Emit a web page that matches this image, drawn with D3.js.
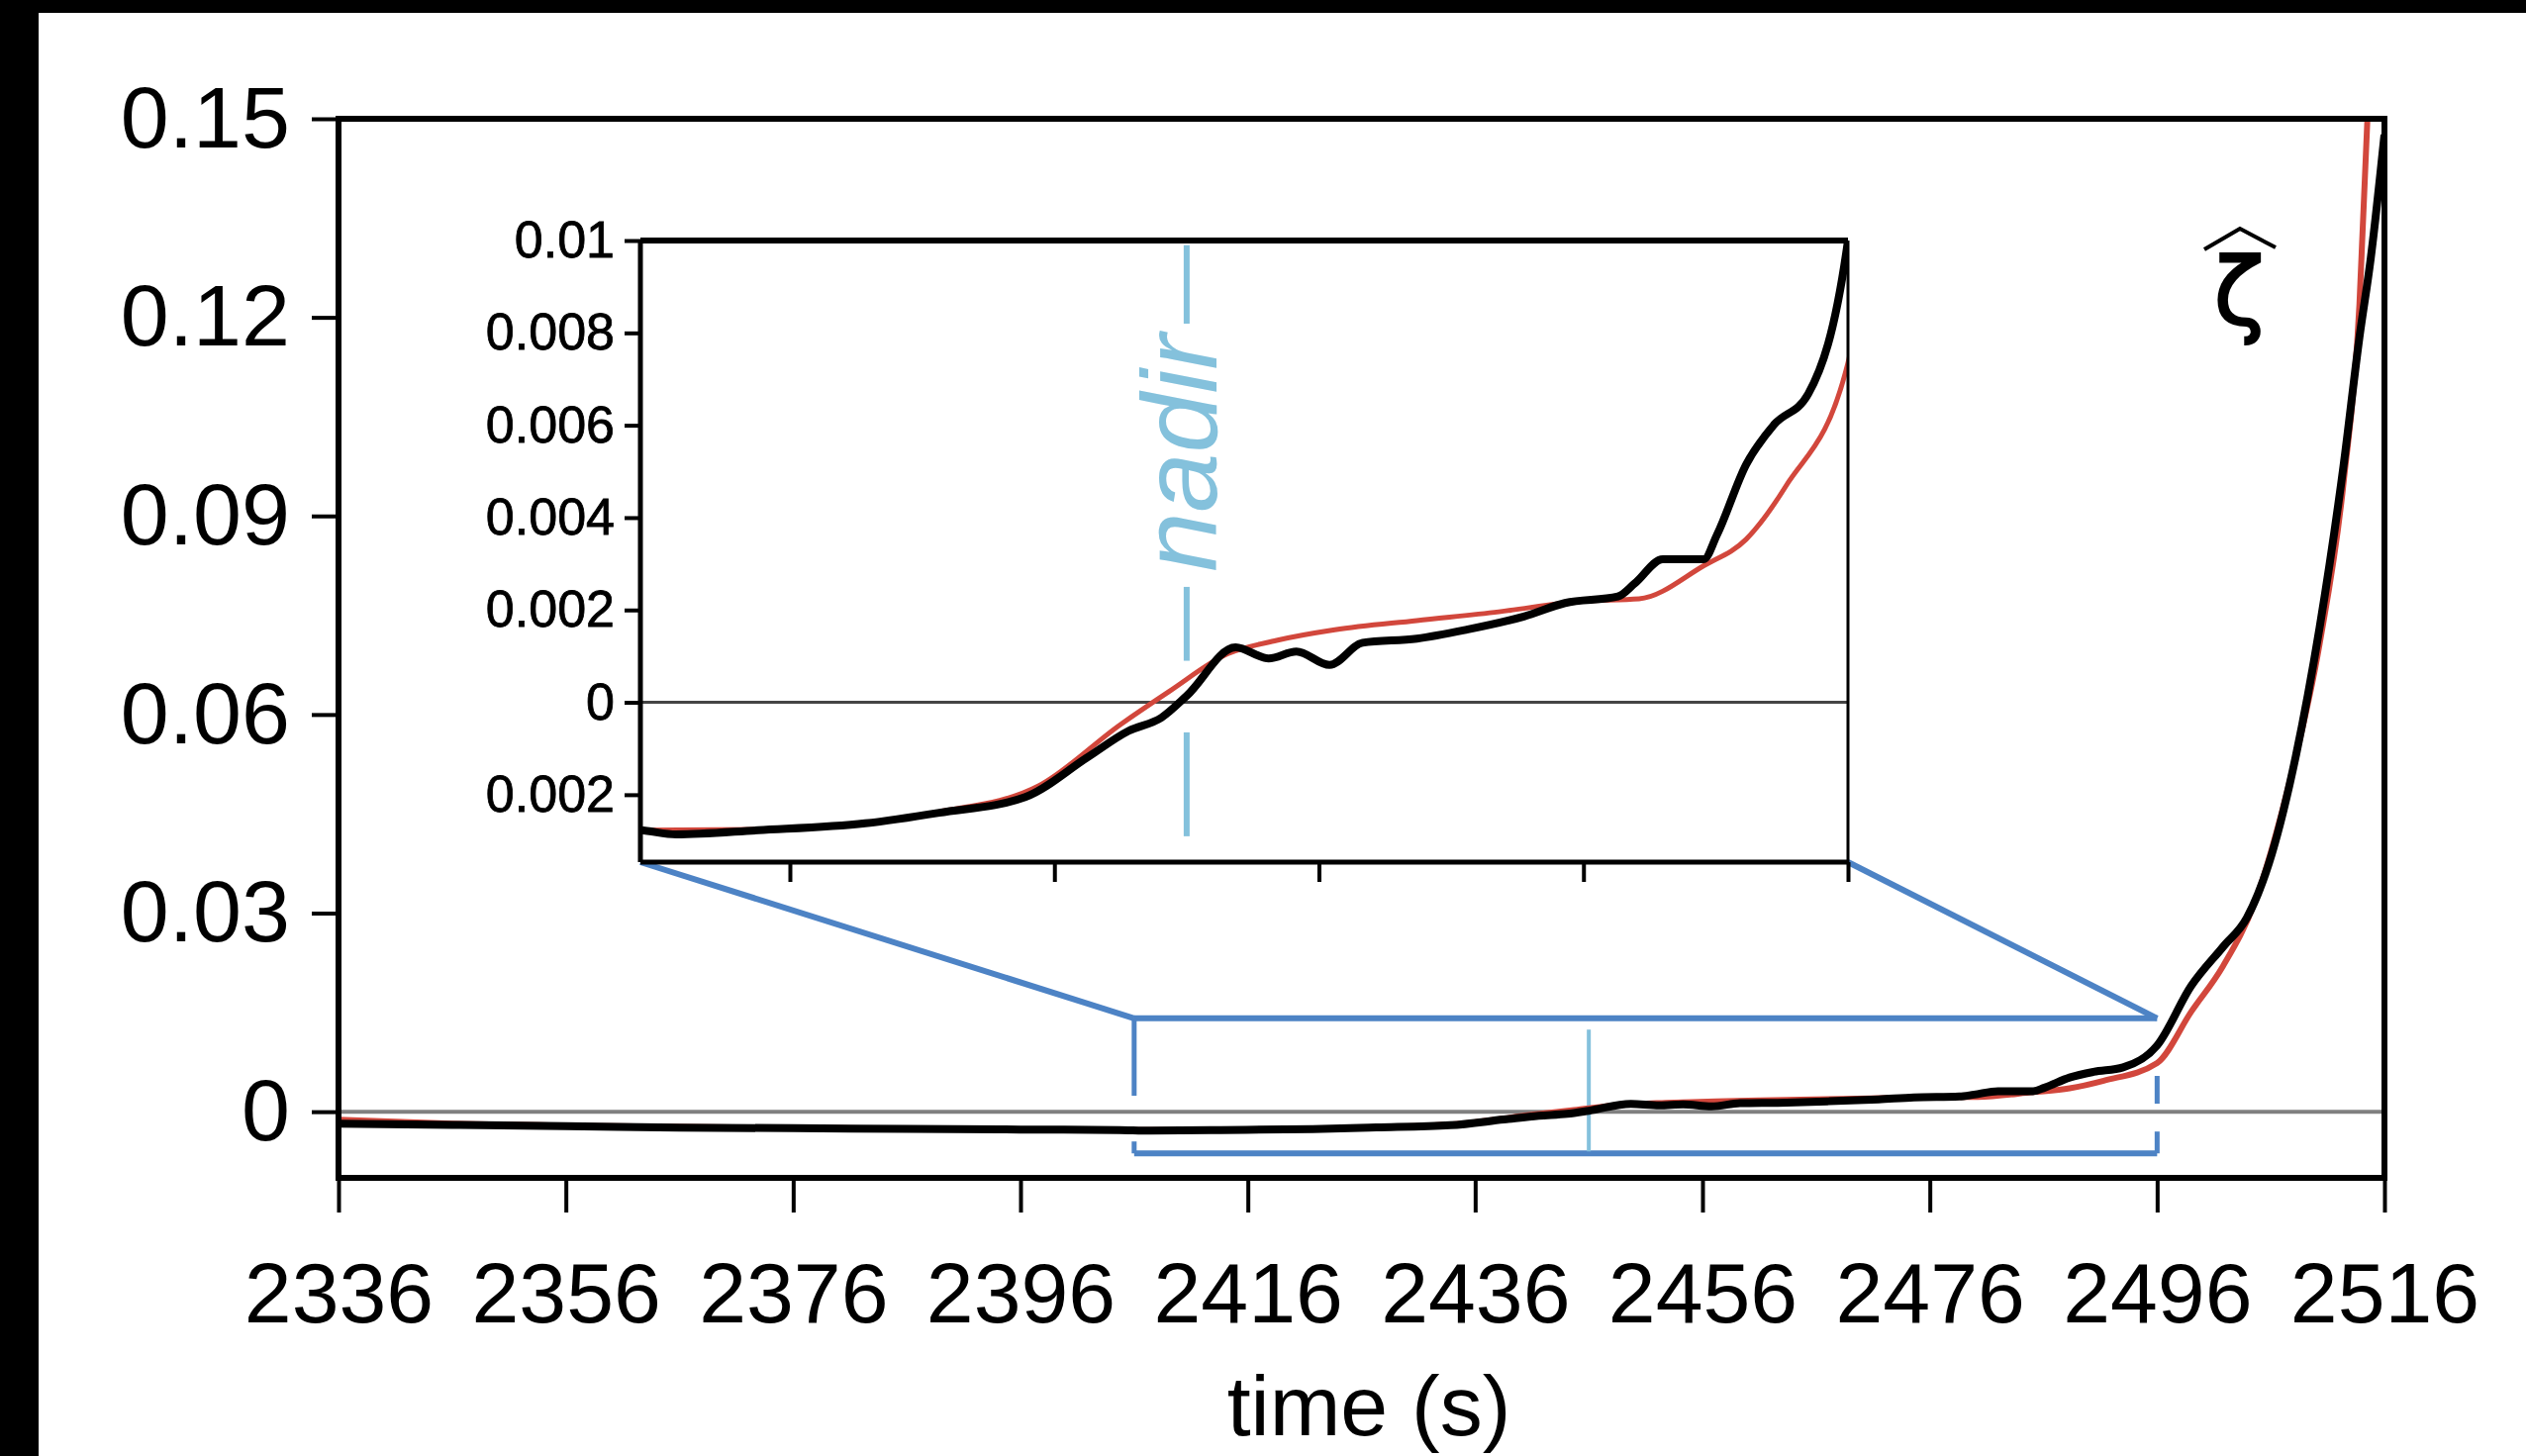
<!DOCTYPE html>
<html><head><meta charset="utf-8">
<script src="https://cdn.jsdelivr.net/npm/d3@7"></script>
<style>html,body{margin:0;padding:0;background:#fff;overflow:hidden}</style>
</head><body>
<svg id="c" width="2552" height="1471"></svg>
<script>
// ---------- data ----------
const timeTicks = [2336, 2356, 2376, 2396, 2416, 2436, 2456, 2476, 2496, 2516];
const mainYTicks = [0, 0.03, 0.06, 0.09, 0.12, 0.15];
const mainYLabels = ["0", "0.03", "0.06", "0.09", "0.12", "0.15"];
const insetYTicks = [-0.002, 0, 0.002, 0.004, 0.006, 0.008, 0.01];
const insetYLabels = ["0.002", "0", "0.002", "0.004", "0.006", "0.008", "0.01"];
const insetXTicks = [2416, 2436, 2456, 2476, 2496];

const blackTime = [2336, 2346, 2356, 2366, 2376, 2386, 2396, 2404.7, 2407.4, 2413.6, 2421.7, 2427.3, 2433.8, 2438.5, 2441.6, 2444.1, 2446.0, 2449.7, 2452.2, 2454.3, 2456.8, 2459.3, 2463.4, 2467.1, 2471.5, 2474.6, 2478.6, 2479.9, 2482.0, 2485.1, 2486.1, 2488.3, 2490.4, 2493.0, 2496.0, 2499.0, 2501.8, 2503.9, 2506.1, 2508.2, 2510.3, 2512.4, 2513.8, 2514.8, 2516];
const blackValue = [-0.0018, -0.0020, -0.0022, -0.0024, -0.0025, -0.0026, -0.0027, -0.00277, -0.00286, -0.00277, -0.00262, -0.00239, -0.00205, -0.00119, -0.00062, -0.00033, 0.00014, 0.00119, 0.00095, 0.0011, 0.00081, 0.00129, 0.00138, 0.00157, 0.00186, 0.00215, 0.00229, 0.00258, 0.0031, 0.0031, 0.00363, 0.00515, 0.00601, 0.00668, 0.0100, 0.019, 0.0249, 0.0293, 0.039, 0.0537, 0.0732, 0.0976, 0.117, 0.129, 0.1476];

const redTime = [2336, 2346, 2360, 2380, 2404.7, 2413.6, 2421.7, 2427.3, 2434.8, 2441.0, 2444.7, 2449.1, 2452.8, 2457.2, 2463.4, 2469.6, 2475.8, 2480.2, 2485.1, 2488.3, 2491.3, 2496.0, 2499.0, 2501.8, 2504.6, 2507.5, 2510.3, 2512.4, 2513.8, 2514.5, 2515.2];
const redValue = [-0.0012, -0.0018, -0.0022, -0.0025, -0.00277, -0.00275, -0.0026, -0.00237, -0.00181, -0.00048, 0.00024, 0.00105, 0.00134, 0.00157, 0.00177, 0.00196, 0.00219, 0.00224, 0.00296, 0.00353, 0.00468, 0.00735, 0.0151, 0.022, 0.0317, 0.0488, 0.0707, 0.095, 0.122, 0.15, 0.17];

const nadirTime = 2446;
const zoomTimeRange = [2406, 2496];
const zoomValueRange = [-0.0063, 0.0141];
const boxLeftSegments = [[0.0141, 0.0024], [-0.0045, -0.0063]];
const boxRightSegments = [[0.0054, 0.0012], [-0.0030, -0.0063]];
const mainNadirSegment = [0.0124, -0.0060];
const insetNadirSegments = [[0.0099, 0.0082], [0.0025, 0.0009], [-0.00065, -0.0029]];
const insetNadirLabelValue = 0.0054;

// ---------- drawing ----------
const svg = d3.select("#c");
svg.append("rect").attr("width", 2552).attr("height", 1471).attr("fill", "#fff");
svg.append("rect").attr("x", 0).attr("y", 0).attr("width", 39).attr("height", 1471).attr("fill", "#000");
svg.append("rect").attr("x", 0).attr("y", 0).attr("width", 2552).attr("height", 13).attr("fill", "#000");

const FONT = "'Liberation Sans', Arial, Helvetica, sans-serif";
const x = d3.scaleLinear().domain([2336, 2516]).range([342, 2409]);
const y = d3.scaleLinear().domain([-0.01, 0.15]).range([1190, 120]);

const black = blackTime.map((t, i) => [t, blackValue[i]]);
const red = redTime.map((t, i) => [t, redValue[i]]);

const defs = svg.append("defs");
defs.append("clipPath").attr("id", "mainClip").append("rect")
  .attr("x", x.range()[0]).attr("y", y.range()[1])
  .attr("width", x.range()[1] - x.range()[0]).attr("height", y.range()[0] - y.range()[1]);

const blue = "#4d83c5", nadirBlue = "#84c1dc";

// zero line
svg.append("line").attr("x1", x.range()[0]).attr("x2", x.range()[1])
  .attr("y1", y(0)).attr("y2", y(0)).attr("stroke", "#808080").attr("stroke-width", 4);

// zoom box in main
const gBox = svg.append("g").attr("stroke", blue).attr("stroke-width", 6).attr("fill", "none");
gBox.append("line").attr("x1", x(zoomTimeRange[0])).attr("x2", x(zoomTimeRange[1]))
  .attr("y1", y(zoomValueRange[1])).attr("y2", y(zoomValueRange[1]));
gBox.append("line").attr("x1", x(zoomTimeRange[0])).attr("x2", x(zoomTimeRange[1]))
  .attr("y1", y(zoomValueRange[0])).attr("y2", y(zoomValueRange[0]));
boxLeftSegments.forEach(s => gBox.append("line").attr("stroke-width", 5)
  .attr("x1", x(zoomTimeRange[0])).attr("x2", x(zoomTimeRange[0])).attr("y1", y(s[0])).attr("y2", y(s[1])));
boxRightSegments.forEach(s => gBox.append("line").attr("stroke-width", 5)
  .attr("x1", x(zoomTimeRange[1])).attr("x2", x(zoomTimeRange[1])).attr("y1", y(s[0])).attr("y2", y(s[1])));
svg.append("line").attr("x1", x(nadirTime)).attr("x2", x(nadirTime))
  .attr("y1", y(mainNadirSegment[0])).attr("y2", y(mainNadirSegment[1]))
  .attr("stroke", nadirBlue).attr("stroke-width", 4);

// curves main
const lineMain = d3.line().x(d => x(d[0])).y(d => y(d[1])).curve(d3.curveMonotoneX);
const gMain = svg.append("g").attr("clip-path", "url(#mainClip)");
gMain.append("path").datum(red).attr("d", lineMain).attr("fill", "none")
  .attr("stroke", "#d2473c").attr("stroke-width", 6);
gMain.append("path").datum(black).attr("d", lineMain).attr("fill", "none")
  .attr("stroke", "#000").attr("stroke-width", 8).attr("stroke-linejoin", "round");

// main axes
const axL = svg.append("g").attr("transform", `translate(${x.range()[0]},0)`)
  .call(d3.axisLeft(y).tickValues(mainYTicks).tickFormat((d, i) => mainYLabels[i])
    .tickSize(27).tickSizeOuter(0).tickPadding(22));
const axB = svg.append("g").attr("transform", `translate(0,${y.range()[0]})`)
  .call(d3.axisBottom(x).tickValues(timeTicks).tickFormat(d3.format("d"))
    .tickSize(35).tickSizeOuter(0).tickPadding(50));
[axL, axB].forEach(a => {
  a.select(".domain").remove();
  a.selectAll(".tick line").attr("stroke", "#000").attr("stroke-width", 4);
  a.selectAll(".tick text").attr("font-family", FONT).attr("font-size", 88).attr("fill", "#000");
});
axB.selectAll(".tick text").attr("font-size", 86);
// main frame
svg.append("rect").attr("x", x.range()[0]).attr("y", y.range()[1])
  .attr("width", x.range()[1] - x.range()[0]).attr("height", y.range()[0] - y.range()[1])
  .attr("fill", "none").attr("stroke", "#000").attr("stroke-width", 6);

svg.append("text").attr("x", 1383).attr("y", 1450).attr("text-anchor", "middle")
  .attr("font-family", FONT).attr("font-size", 86).text("time (s)");

// zeta hat label
svg.append("text").attr("x", 2262).attr("y", 328).attr("text-anchor", "middle")
  .attr("font-family", "'DejaVu Sans', sans-serif").attr("font-size", 94)
  .attr("stroke", "#000").attr("stroke-width", 2)
  .text("ζ");
svg.append("path").attr("d", "M2227,252 L2263,231 L2299,250")
  .attr("fill", "none").attr("stroke", "#000").attr("stroke-width", 4).attr("stroke-linejoin", "miter");

// ---------- inset ----------
const xi = d3.scaleLinear().domain([2404.7, 2496]).range([647, 1867]);
const yi = d3.scaleLinear().domain([-0.00346, 0.01]).range([871, 243]);

// connectors
svg.append("line").attr("x1", xi.range()[0]).attr("y1", yi.range()[0])
  .attr("x2", x(zoomTimeRange[0])).attr("y2", y(zoomValueRange[1]))
  .attr("stroke", blue).attr("stroke-width", 6);
svg.append("line").attr("x1", xi.range()[1]).attr("y1", yi.range()[0])
  .attr("x2", x(zoomTimeRange[1])).attr("y2", y(zoomValueRange[1]))
  .attr("stroke", blue).attr("stroke-width", 6);

defs.append("clipPath").attr("id", "insetClip").append("rect")
  .attr("x", xi.range()[0]).attr("y", yi.range()[1])
  .attr("width", xi.range()[1] - xi.range()[0]).attr("height", yi.range()[0] - yi.range()[1]);

svg.append("rect").attr("x", xi.range()[0]).attr("y", yi.range()[1])
  .attr("width", xi.range()[1] - xi.range()[0]).attr("height", yi.range()[0] - yi.range()[1])
  .attr("fill", "#fff");

svg.append("line").attr("x1", xi.range()[0]).attr("x2", xi.range()[1])
  .attr("y1", yi(0)).attr("y2", yi(0)).attr("stroke", "#444").attr("stroke-width", 3);

const gNad = svg.append("g").attr("stroke", nadirBlue).attr("stroke-width", 6);
insetNadirSegments.forEach(s => gNad.append("line")
  .attr("x1", xi(nadirTime)).attr("x2", xi(nadirTime)).attr("y1", yi(s[0])).attr("y2", yi(s[1])));
svg.append("text")
  .attr("transform", `translate(${xi(nadirTime) + 30},${yi(insetNadirLabelValue)}) rotate(-90)`)
  .attr("text-anchor", "middle").attr("font-family", FONT).attr("font-style", "italic")
  .attr("font-size", 108).attr("fill", nadirBlue).text("nadir");

const lineInset = d3.line().x(d => xi(d[0])).y(d => yi(d[1])).curve(d3.curveMonotoneX);
const gIn = svg.append("g").attr("clip-path", "url(#insetClip)");
gIn.append("path").datum(red).attr("d", lineInset).attr("fill", "none")
  .attr("stroke", "#d2473c").attr("stroke-width", 5);
gIn.append("path").datum(black).attr("d", lineInset).attr("fill", "none")
  .attr("stroke", "#000").attr("stroke-width", 8).attr("stroke-linejoin", "round");

const aiL = svg.append("g").attr("transform", `translate(${xi.range()[0]},0)`)
  .call(d3.axisLeft(yi).tickValues(insetYTicks).tickFormat((d, i) => insetYLabels[i])
    .tickSize(16).tickSizeOuter(0).tickPadding(10));
const aiB = svg.append("g").attr("transform", `translate(0,${yi.range()[0]})`)
  .call(d3.axisBottom(xi).tickValues(insetXTicks).tickFormat("").tickSize(20).tickSizeOuter(0));
[aiL, aiB].forEach(a => {
  a.select(".domain").remove();
  a.selectAll(".tick line").attr("stroke", "#000").attr("stroke-width", 4);
  a.selectAll(".tick text").attr("font-family", FONT).attr("font-size", 52).attr("fill", "#000")
    .attr("stroke", "#000").attr("stroke-width", 0.8);
});
const fr = svg.append("g").attr("stroke", "#000").attr("fill", "none");
fr.append("line").attr("x1", xi.range()[0]).attr("x2", xi.range()[1]).attr("y1", yi.range()[1]).attr("y2", yi.range()[1]).attr("stroke-width", 6);
fr.append("line").attr("x1", xi.range()[0]).attr("x2", xi.range()[1]).attr("y1", yi.range()[0]).attr("y2", yi.range()[0]).attr("stroke-width", 5);
fr.append("line").attr("x1", xi.range()[0]).attr("x2", xi.range()[0]).attr("y1", yi.range()[1]).attr("y2", yi.range()[0]).attr("stroke-width", 5);
fr.append("line").attr("x1", xi.range()[1]).attr("x2", xi.range()[1]).attr("y1", yi.range()[1]).attr("y2", yi.range()[0]).attr("stroke-width", 3);
</script>
</body></html>
